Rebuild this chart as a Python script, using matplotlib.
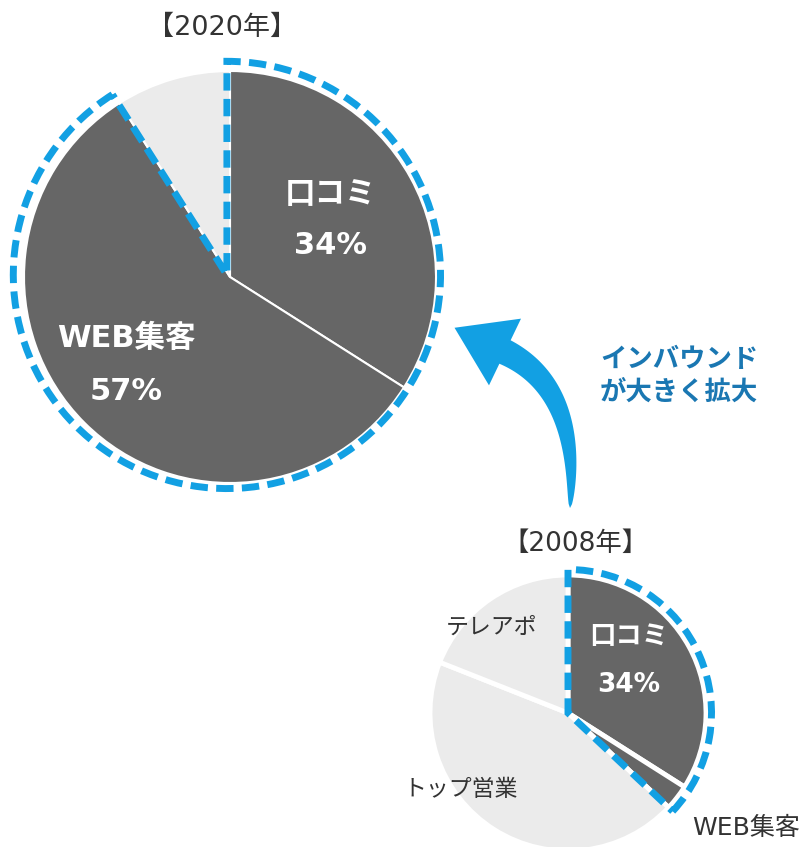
import numpy as np
import matplotlib
matplotlib.use("Agg")
import matplotlib.pyplot as plt
from matplotlib.patches import Wedge, Polygon

plt.rcParams['font.family'] = ['DejaVu Sans', 'Noto Sans CJK JP']

# ---- data ----
labels_2020 = ["口コミ", "WEB集客", "その他"]
values_2020 = [34, 57, 9]
labels_2008 = ["口コミ", "WEB集客", "トップ営業", "テレアポ"]
values_2008 = [34, 3, 44, 19]
title_2020 = "【2020年】"
title_2008 = "【2008年】"
arrow_text = "インバウンド\nが大きく拡大"

DARK = "#666666"
LIGHT = "#ebebeb"
BLUE = "#12a0e3"
TXT_BLUE = "#1a77b2"
TXT = "#333333"
JP = ['Noto Sans CJK JP', 'DejaVu Sans']
MIX = ['DejaVu Sans', 'Noto Sans CJK JP']

W, H = 807, 847
fig = plt.figure(figsize=(W / 100, H / 100), dpi=100)


def pie_axes(cx, cy, r, lim=1.1):
    size = 2 * lim * r
    ax = fig.add_axes([(cx - size / 2) / W, (H - cy - size / 2) / H, size / W, size / H])
    return ax


DASH = (0, (2.5, 1.2))

# ---- 2020 pie ----
ax1 = pie_axes(230, 277, 206)
ax1.pie(values_2020, startangle=90, counterclock=False,
        colors=[DARK, DARK, LIGHT],
        wedgeprops=dict(edgecolor="white", linewidth=1.5))
ax1.set_xlim(-1.1, 1.1)
ax1.set_ylim(-1.1, 1.1)
ax1.set_aspect("equal")
ax1.axis("off")
dark_frac = (values_2020[0] + values_2020[1]) / sum(values_2020)
ax1.add_patch(Wedge((-0.015, 0.01), 1.037, 90 - dark_frac * 360, 90,
                    fill=False, edgecolor=BLUE, linewidth=5.0, linestyle=DASH,
                    joinstyle="miter", zorder=5))

# ---- 2008 pie ----
ax2 = pie_axes(568, 713, 138)
ax2.pie(values_2008, startangle=90, counterclock=False,
        colors=[DARK, DARK, LIGHT, LIGHT],
        wedgeprops=dict(edgecolor="white", linewidth=3.5))
ax2.set_xlim(-1.1, 1.1)
ax2.set_ylim(-1.1, 1.1)
ax2.set_aspect("equal")
ax2.axis("off")
dark_frac2 = (values_2008[0] + values_2008[1]) / sum(values_2008)
ax2.add_patch(Wedge((0.0, 0.0), 1.04, 90 - dark_frac2 * 360, 90,
                    fill=False, edgecolor=BLUE, linewidth=5.0, linestyle=DASH,
                    joinstyle="miter", zorder=5))

# ---- overlay (pixel coordinates) ----
ov = fig.add_axes([0, 0, 1, 1], facecolor="none")
ov.set_xlim(0, W)
ov.set_ylim(H, 0)
ov.axis("off")

# curved arrow
P0 = np.array([570.0, 508.0])
P1 = np.array([580.0, 388.0])
P2 = np.array([505.0, 352.0])
t = np.linspace(0, 1, 60)
pts = ((1 - t) ** 2)[:, None] * P0 + (2 * (1 - t) * t)[:, None] * P1 + (t ** 2)[:, None] * P2
der = (2 * (1 - t))[:, None] * (P1 - P0) + (2 * t)[:, None] * (P2 - P1)
tang = der / np.linalg.norm(der, axis=1)[:, None]
norm = np.column_stack([-tang[:, 1], tang[:, 0]])
wid = 13.0 * np.sqrt(t)
left = pts + norm * wid[:, None]
right = pts - norm * wid[:, None]
d = tang[-1]
n = norm[-1]
tip = P2 + d * 56
c1 = P2 + n * 37
c2 = P2 - n * 37
poly = np.vstack([left, c1, tip, c2, right[::-1]])
ov.add_patch(Polygon(poly, closed=True, facecolor=BLUE, edgecolor="none"))

ov.text(679, 376, arrow_text, color=TXT_BLUE, fontsize=19, fontweight="bold",
        ha="center", va="center", linespacing=1.3, family=JP)

# titles
ov.text(222, 28, title_2020, color=TXT, fontsize=19.5, ha="center", va="center", family=MIX)
ov.text(575, 544, title_2008, color=TXT, fontsize=19, ha="center", va="center", family=MIX)

# 2020 labels
ov.text(330, 194, labels_2020[0], color="white", fontsize=22, fontweight="bold", ha="center", va="center", family=JP)
ov.text(330, 246, f"{values_2020[0]}%", color="white", fontsize=22, fontweight="bold", ha="center", va="center", family=MIX)
ov.text(126, 338, labels_2020[1], color="white", fontsize=22, fontweight="bold", ha="center", va="center", family=MIX)
ov.text(126, 391, f"{values_2020[1]}%", color="white", fontsize=22, fontweight="bold", ha="center", va="center", family=MIX)

# 2008 labels
ov.text(629, 637, labels_2008[0], color="white", fontsize=19, fontweight="bold", ha="center", va="center", family=JP)
ov.text(629, 685, f"{values_2008[0]}%", color="white", fontsize=19, fontweight="bold", ha="center", va="center", family=MIX)
ov.text(746, 828, labels_2008[1], color=TXT, fontsize=18, ha="center", va="center", family=MIX)
ov.text(461, 789, labels_2008[2], color=TXT, fontsize=16.5, ha="center", va="center", family=JP)
ov.text(492, 627, labels_2008[3], color=TXT, fontsize=16.5, ha="center", va="center", family=JP)

fig.savefig("out.png", dpi=100)
